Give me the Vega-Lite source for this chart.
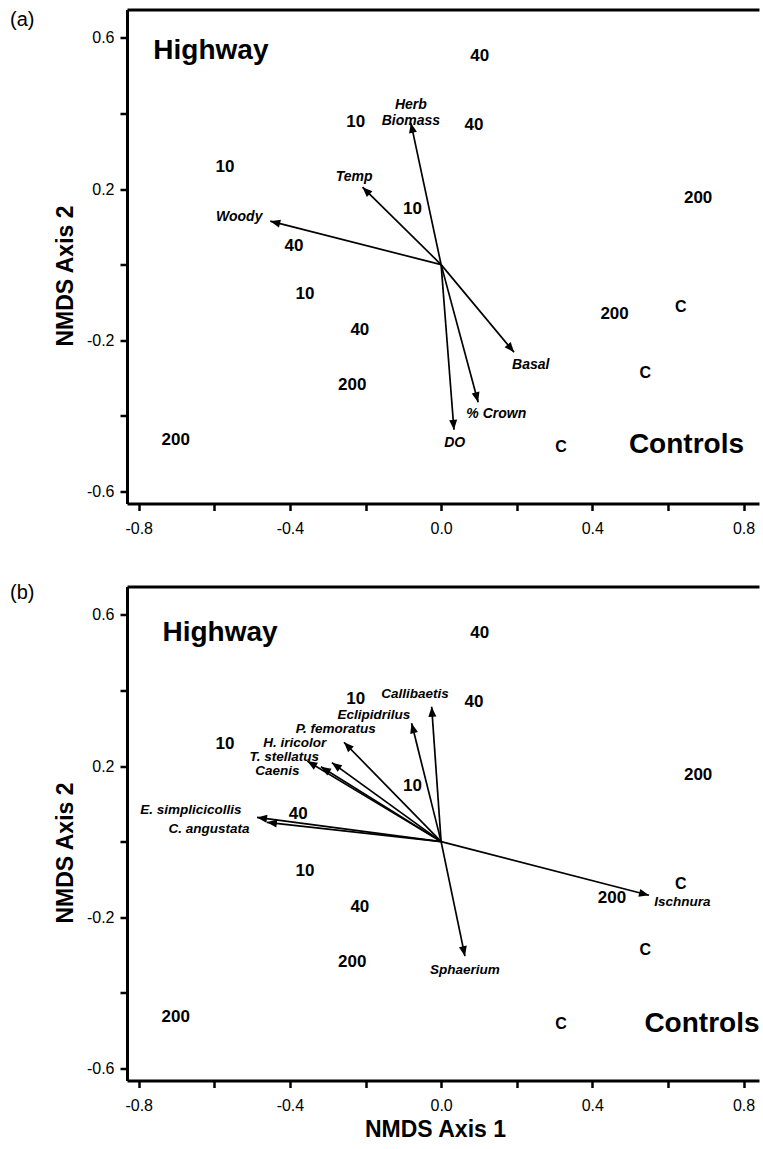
{
  "$schema": "https://vega.github.io/schema/vega-lite/v6.json",
  "padding": {"left": 10, "top": 9.5, "right": 0, "bottom": 4},
  "spacing": 46,
  "config": {
    "font": "Liberation Sans",
    "view": {"stroke": null},
    "axis": {"grid": false, "domainColor": "black", "domainWidth": 3, "tickColor": "black", "tickWidth": 2.5, "tickSize": 7, "labelFont": "Liberation Sans", "labelFontSize": 16, "labelColor": "black", "titleFont": "Liberation Sans", "titleFontSize": 23, "titleFontWeight": "bold", "titleColor": "black", "labelFlush": false, "labelOverlap": false},
    "text": {"color": "black", "font": "Liberation Sans"}
  },
  "datasets": {
    "sitesA": [
      {"label": "40", "x": 0.102, "y": 0.551},
      {"label": "10", "x": -0.226, "y": 0.378},
      {"label": "40", "x": 0.087, "y": 0.370},
      {"label": "10", "x": -0.572, "y": 0.258},
      {"label": "200", "x": 0.680, "y": 0.176},
      {"label": "10", "x": -0.076, "y": 0.146},
      {"label": "40", "x": -0.389, "y": 0.050},
      {"label": "10", "x": -0.360, "y": -0.079},
      {"label": "C", "x": 0.634, "y": -0.111},
      {"label": "200", "x": 0.459, "y": -0.130},
      {"label": "40", "x": -0.215, "y": -0.173},
      {"label": "C", "x": 0.540, "y": -0.287},
      {"label": "200", "x": -0.235, "y": -0.318},
      {"label": "200", "x": -0.702, "y": -0.463},
      {"label": "C", "x": 0.317, "y": -0.483}
    ],
    "sitesB": [
      {"label": "40", "x": 0.102, "y": 0.551},
      {"label": "10", "x": -0.226, "y": 0.378},
      {"label": "40", "x": 0.087, "y": 0.370},
      {"label": "10", "x": -0.572, "y": 0.258},
      {"label": "200", "x": 0.680, "y": 0.176},
      {"label": "10", "x": -0.076, "y": 0.146},
      {"label": "40", "x": -0.378, "y": 0.074},
      {"label": "10", "x": -0.360, "y": -0.079},
      {"label": "C", "x": 0.634, "y": -0.111},
      {"label": "200", "x": 0.452, "y": -0.150},
      {"label": "40", "x": -0.215, "y": -0.173},
      {"label": "C", "x": 0.540, "y": -0.287},
      {"label": "200", "x": -0.235, "y": -0.318},
      {"label": "200", "x": -0.702, "y": -0.463},
      {"label": "C", "x": 0.317, "y": -0.483}
    ],
    "groupsA": [
      {"label": "Highway", "x": -0.609, "y": 0.566},
      {"label": "Controls", "x": 0.649, "y": -0.477}
    ],
    "groupsB": [
      {"label": "Highway", "x": -0.585, "y": 0.553},
      {"label": "Controls", "x": 0.69, "y": -0.483}
    ],
    "varsA": [
      {"var": "Herb\nBiomass", "x": -0.080, "y": 0.375, "lx": -0.080, "ly": 0.422},
      {"var": "Temp", "x": -0.208, "y": 0.205, "lx": -0.230, "ly": 0.231},
      {"var": "Woody", "x": -0.452, "y": 0.115, "lx": -0.534, "ly": 0.125},
      {"var": "Basal", "x": 0.193, "y": -0.232, "lx": 0.237, "ly": -0.265},
      {"var": "% Crown", "x": 0.098, "y": -0.364, "lx": 0.146, "ly": -0.395},
      {"var": "DO", "x": 0.034, "y": -0.437, "lx": 0.036, "ly": -0.472}
    ],
    "varsB": [
      {"var": "Callibaetis", "x": -0.025, "y": 0.357, "lx": -0.069, "ly": 0.390},
      {"var": "Eclipidrilus", "x": -0.078, "y": 0.313, "lx": -0.178, "ly": 0.336},
      {"var": "P. femoratus", "x": -0.257, "y": 0.263, "lx": -0.279, "ly": 0.299},
      {"var": "H. iricolor", "x": -0.289, "y": 0.209, "lx": -0.387, "ly": 0.262},
      {"var": "T. stellatus", "x": -0.354, "y": 0.213, "lx": -0.415, "ly": 0.225},
      {"var": "Caenis", "x": -0.318, "y": 0.198, "lx": -0.433, "ly": 0.188},
      {"var": "E. simplicicollis", "x": -0.487, "y": 0.064, "lx": -0.662, "ly": 0.084},
      {"var": "C. angustata", "x": -0.461, "y": 0.051, "lx": -0.614, "ly": 0.033},
      {"var": "Ischnura", "x": 0.550, "y": -0.142, "lx": 0.638, "ly": -0.160},
      {"var": "Sphaerium", "x": 0.063, "y": -0.303, "lx": 0.063, "ly": -0.339}
    ],
    "letterA": [{"label": "(a)"}],
    "letterB": [{"label": "(b)"}]
  },
  "vconcat": [
    {
      "width": 632,
      "height": 494,
      "resolve": {"axis": {"x": "independent", "y": "independent"}},
      "layer": [
        {
          "data": {"name": "sitesA"},
          "mark": {"type": "text", "fontWeight": "bold"},
          "encoding": {
            "x": {"field": "x", "type": "quantitative", "scale": {"domain": [-0.831, 0.841], "nice": false, "zero": false},
                  "axis": {"orient": "bottom", "title": null, "values": [-0.8, -0.6, -0.4, -0.2, 0, 0.2, 0.4, 0.6, 0.8], "labelPadding": 10,
                           "labelExpr": "abs(round(datum.value*10)) % 4 == 0 ? replace(format(datum.value, '.1f'), '\u2212', '-') : ''"}},
            "y": {"field": "y", "type": "quantitative", "scale": {"domain": [-0.632, 0.675], "nice": false, "zero": false},
                  "axis": {"orient": "left", "title": "NMDS Axis 2", "values": [-0.6, -0.4, -0.2, 0, 0.2, 0.4, 0.6], "labelPadding": 6, "titlePadding": 9, "titleY": 266,
                           "labelExpr": "abs(round(datum.value*10)) % 4 == 2 ? replace(format(datum.value, '.1f'), '\u2212', '-') : ''"}},
            "text": {"field": "label"},
            "size": {"condition": {"test": "datum.label === 'C'", "value": 16}, "value": 17}
          }
        },
        {
          "data": {"name": "groupsA"},
          "mark": {"type": "text", "fontWeight": "bold", "fontSize": 28},
          "encoding": {
            "x": {"field": "x", "type": "quantitative", "axis": {"orient": "top", "labels": false, "ticks": false, "title": null, "domain": true}},
            "y": {"field": "y", "type": "quantitative", "axis": null},
            "text": {"field": "label"}
          }
        },
        {
          "data": {"name": "varsA"},
          "mark": {"type": "rule", "strokeWidth": 1.7, "color": "black"},
          "encoding": {
            "x": {"field": "x", "type": "quantitative", "axis": null},
            "y": {"field": "y", "type": "quantitative", "axis": null},
            "x2": {"datum": 0},
            "y2": {"datum": 0}
          }
        },
        {
          "data": {"name": "varsA"},
          "mark": {"type": "point", "shape": "M0,0L0.8,2L-0.8,2Z", "filled": true, "color": "black", "opacity": 1, "size": 100, "angle": {"expr": "atan2(datum.x, datum.y) * 180 / PI"}},
          "encoding": {
            "x": {"field": "x", "type": "quantitative", "axis": null},
            "y": {"field": "y", "type": "quantitative", "axis": null}
          }
        },
        {
          "data": {"name": "varsA"},
          "mark": {"type": "text", "fontStyle": "italic", "fontWeight": "bold", "fontSize": 14, "lineBreak": "\n", "lineHeight": 16},
          "encoding": {
            "x": {"field": "lx", "type": "quantitative", "axis": null},
            "y": {"field": "ly", "type": "quantitative", "axis": null},
            "text": {"field": "var"}
          }
        },
        {
          "data": {"name": "letterA"},
          "mark": {"type": "text", "fontSize": 20},
          "encoding": {
            "x": {"datum": -1.108, "type": "quantitative", "axis": null},
            "y": {"datum": 0.647, "type": "quantitative", "axis": null},
            "text": {"field": "label"}
          }
        }
      ]
    },
    {
      "width": 632,
      "height": 494,
      "resolve": {"axis": {"x": "independent", "y": "independent"}},
      "layer": [
        {
          "data": {"name": "sitesB"},
          "mark": {"type": "text", "fontWeight": "bold"},
          "encoding": {
            "x": {"field": "x", "type": "quantitative", "scale": {"domain": [-0.831, 0.841], "nice": false, "zero": false},
                  "axis": {"orient": "bottom", "title": "NMDS Axis 1", "titlePadding": 5, "titleX": 308, "values": [-0.8, -0.6, -0.4, -0.2, 0, 0.2, 0.4, 0.6, 0.8], "labelPadding": 10,
                           "labelExpr": "abs(round(datum.value*10)) % 4 == 0 ? replace(format(datum.value, '.1f'), '\u2212', '-') : ''"}},
            "y": {"field": "y", "type": "quantitative", "scale": {"domain": [-0.632, 0.675], "nice": false, "zero": false},
                  "axis": {"orient": "left", "title": "NMDS Axis 2", "values": [-0.6, -0.4, -0.2, 0, 0.2, 0.4, 0.6], "labelPadding": 6, "titlePadding": 9, "titleY": 266,
                           "labelExpr": "abs(round(datum.value*10)) % 4 == 2 ? replace(format(datum.value, '.1f'), '\u2212', '-') : ''"}},
            "text": {"field": "label"},
            "size": {"condition": {"test": "datum.label === 'C'", "value": 16}, "value": 17}
          }
        },
        {
          "data": {"name": "groupsB"},
          "mark": {"type": "text", "fontWeight": "bold", "fontSize": 28},
          "encoding": {
            "x": {"field": "x", "type": "quantitative", "axis": {"orient": "top", "labels": false, "ticks": false, "title": null, "domain": true}},
            "y": {"field": "y", "type": "quantitative", "axis": null},
            "text": {"field": "label"}
          }
        },
        {
          "data": {"name": "varsB"},
          "mark": {"type": "rule", "strokeWidth": 1.7, "color": "black"},
          "encoding": {
            "x": {"field": "x", "type": "quantitative", "axis": null},
            "y": {"field": "y", "type": "quantitative", "axis": null},
            "x2": {"datum": 0},
            "y2": {"datum": 0}
          }
        },
        {
          "data": {"name": "varsB"},
          "mark": {"type": "point", "shape": "M0,0L0.8,2L-0.8,2Z", "filled": true, "color": "black", "opacity": 1, "size": 100, "angle": {"expr": "atan2(datum.x, datum.y) * 180 / PI"}},
          "encoding": {
            "x": {"field": "x", "type": "quantitative", "axis": null},
            "y": {"field": "y", "type": "quantitative", "axis": null}
          }
        },
        {
          "data": {"name": "varsB"},
          "mark": {"type": "text", "fontStyle": "italic", "fontWeight": "bold", "fontSize": 13.5},
          "encoding": {
            "x": {"field": "lx", "type": "quantitative", "axis": null},
            "y": {"field": "ly", "type": "quantitative", "axis": null},
            "text": {"field": "var"}
          }
        },
        {
          "data": {"name": "letterB"},
          "mark": {"type": "text", "fontSize": 20},
          "encoding": {
            "x": {"datum": -1.108, "type": "quantitative", "axis": null},
            "y": {"datum": 0.657, "type": "quantitative", "axis": null},
            "text": {"field": "label"}
          }
        }
      ]
    }
  ]
}
